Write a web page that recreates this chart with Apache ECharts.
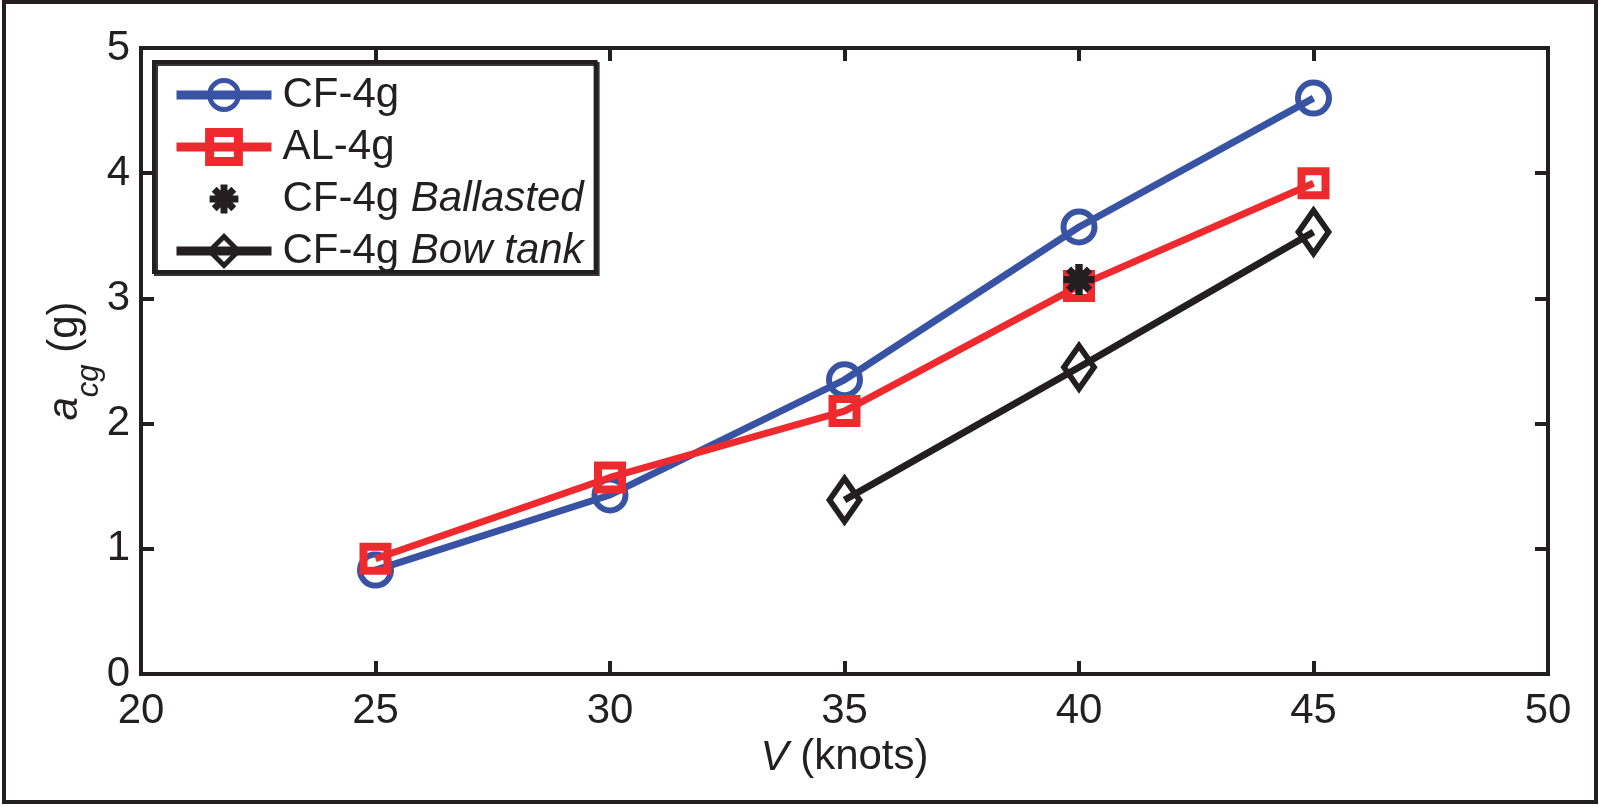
<!DOCTYPE html>
<html>
<head>
<meta charset="utf-8">
<script src="https://cdn.jsdelivr.net/npm/echarts@6/dist/echarts.min.js"></script>
<style>
  html, body { margin: 0; padding: 0; background: #ffffff; }
  #chart { width: 1599px; height: 807px; }
</style>
</head>
<body>
<div id="chart"></div>
<script>
// ---- Data ----
const speeds = [25, 30, 35, 40, 45];
const cf4g = [0.83, 1.43, 2.35, 3.57, 4.60];
const al4g = [0.92, 1.57, 2.10, 3.10, 3.92];
const ballastedSpeeds = [40];
const ballasted = [3.15];
const bowTankSpeeds = [35, 40, 45];
const bowTank = [1.39, 2.45, 3.53];
const seriesNames = ['CF-4g', 'AL-4g', 'CF-4g Ballasted', 'CF-4g Bow tank'];
const xTicks = { min: 20, max: 50, interval: 5 };
const yTicks = { min: 0, max: 5, interval: 1 };

const pairs = (xs, ys) => xs.map((x, i) => [x, ys[i]]);

const FONT = "'Liberation Sans', Arial, Helvetica, sans-serif";
const INK = '#231F20';
const BLUE = '#3953A4';
const RED = '#EE2A2E';
const CLEAR = 'rgba(255,255,255,0)';

const asterisk = 'path://M0,38 L100,38 L100,62 L0,62 Z M38,0 L62,0 L62,100 L38,100 Z ' +
  'M24.5,7.5 L92.5,75.5 L75.5,92.5 L7.5,24.5 Z M75.5,7.5 L92.5,24.5 L24.5,92.5 L7.5,75.5 Z ' +
  'M78,50 L69.8,69.8 L50,78 L30.2,69.8 L22,50 L30.2,30.2 L50,22 L69.8,30.2 Z';

const chart = echarts.init(document.getElementById('chart'), null, { renderer: 'canvas' });

const tickCommon = { show: true, inside: true, length: 13, lineStyle: { color: INK, width: 4 } };
const lineCommon = { show: true, onZero: false, lineStyle: { color: INK, width: 4, cap: 'square' } };
const labelCommon = { color: INK, fontSize: 42, fontFamily: FONT };

const option = {
  animation: false,
  backgroundColor: '#ffffff',
  grid: { left: 141, right: 51, top: 48, bottom: 133, containLabel: false },
  graphic: [{
    type: 'rect',
    shape: { x: 4, y: 2, width: 1592, height: 800 },
    style: { fill: 'none', stroke: INK, lineWidth: 4 },
    z: 100, silent: true
  }],
  legend: {
    left: 154, top: 62,
    orient: 'vertical',
    data: [
      { name: seriesNames[0], itemStyle: { color: CLEAR, borderColor: BLUE, borderWidth: 5 } },
      { name: seriesNames[1], itemStyle: { color: CLEAR, borderColor: RED, borderWidth: 9 } },
      { name: seriesNames[2], itemStyle: { color: INK, borderWidth: 0 } },
      { name: seriesNames[3], itemStyle: { color: CLEAR, borderColor: INK, borderWidth: 5 } }
    ],
    itemWidth: 95, itemHeight: 36, itemGap: 10,
    padding: [12, 12, 0, 18],
    backgroundColor: '#ffffff',
    borderColor: INK, borderWidth: 4, borderRadius: 0,
    shadowColor: 'rgba(35,31,32,0.9)', shadowBlur: 0, shadowOffsetX: 2, shadowOffsetY: 2,
    lineStyle: { width: 9 },
    textStyle: {
      color: INK, fontSize: 42, fontFamily: FONT, lineHeight: 36, padding: [0, 0, 0, 6],
      rich: {
        n: { color: INK, fontSize: 42, fontFamily: FONT, lineHeight: 36 },
        i: { color: INK, fontSize: 42, fontFamily: FONT, fontStyle: 'italic', lineHeight: 36 }
      }
    },
    formatter: function (name) {
      const k = name.indexOf(' ');
      if (k < 0) return '{n|' + name + '}';
      return '{n|' + name.slice(0, k) + ' }{i|' + name.slice(k + 1) + '}';
    }
  },
  xAxis: [{
    type: 'value', position: 'bottom', min: xTicks.min, max: xTicks.max, interval: xTicks.interval,
    axisLine: lineCommon, axisTick: tickCommon, splitLine: { show: false },
    axisLabel: Object.assign({ margin: 16 }, labelCommon),
    name: '{i|V} (knots)', nameLocation: 'middle', nameGap: 60,
    nameTextStyle: {
      color: INK, fontSize: 42, fontFamily: FONT,
      rich: { i: { fontStyle: 'italic', fontSize: 42, fontFamily: FONT, color: INK } }
    }
  }, {
    type: 'value', position: 'top', min: xTicks.min, max: xTicks.max, interval: xTicks.interval,
    axisLine: lineCommon, axisTick: tickCommon, splitLine: { show: false }, axisLabel: { show: false }
  }],
  yAxis: [{
    type: 'value', position: 'left', min: yTicks.min, max: yTicks.max, interval: yTicks.interval,
    axisLine: lineCommon, axisTick: tickCommon, splitLine: { show: false },
    axisLabel: Object.assign({ margin: 11 }, labelCommon),
    name: '{a|a}{s|cg}{n| (g)}', nameLocation: 'middle', nameRotate: 90, nameGap: 36,
    nameMoveOverlap: false,
    nameTextStyle: {
      color: INK, fontSize: 42, fontFamily: FONT,
      rich: {
        a: { fontStyle: 'italic', fontSize: 42, fontFamily: FONT, color: INK, lineHeight: 80, verticalAlign: 'middle' },
        s: { fontStyle: 'italic', fontSize: 31, fontFamily: FONT, color: INK, lineHeight: 31, verticalAlign: 'bottom' },
        n: { fontSize: 42, fontFamily: FONT, color: INK, lineHeight: 80, verticalAlign: 'middle' }
      }
    }
  }, {
    type: 'value', position: 'right', min: yTicks.min, max: yTicks.max, interval: yTicks.interval,
    axisLine: lineCommon, axisTick: tickCommon, splitLine: { show: false }, axisLabel: { show: false }
  }],
  series: [{
    name: seriesNames[0], type: 'line', xAxisIndex: 0, yAxisIndex: 0,
    data: pairs(speeds, cf4g),
    symbol: 'circle', symbolSize: 31,
    lineStyle: { color: BLUE, width: 7 },
    itemStyle: { color: CLEAR, borderColor: BLUE, borderWidth: 6 },
    z: 2
  }, {
    name: seriesNames[1], type: 'line', xAxisIndex: 0, yAxisIndex: 0,
    data: pairs(speeds, al4g),
    symbol: 'rect', symbolSize: 24,
    lineStyle: { color: RED, width: 7 },
    itemStyle: { color: CLEAR, borderColor: RED, borderWidth: 8 },
    z: 3
  }, {
    name: seriesNames[2], type: 'line', xAxisIndex: 0, yAxisIndex: 0,
    data: pairs(ballastedSpeeds, ballasted),
    symbol: asterisk, symbolSize: 31,
    lineStyle: { color: INK, width: 0, opacity: 0 },
    itemStyle: { color: INK, borderWidth: 0 },
    z: 4
  }, {
    name: seriesNames[3], type: 'line', xAxisIndex: 0, yAxisIndex: 0,
    data: pairs(bowTankSpeeds, bowTank),
    symbol: 'diamond', symbolSize: [30, 43],
    lineStyle: { color: INK, width: 7 },
    itemStyle: { color: CLEAR, borderColor: INK, borderWidth: 6 },
    z: 5
  }]
};

chart.setOption(option);
</script>
</body>
</html>
